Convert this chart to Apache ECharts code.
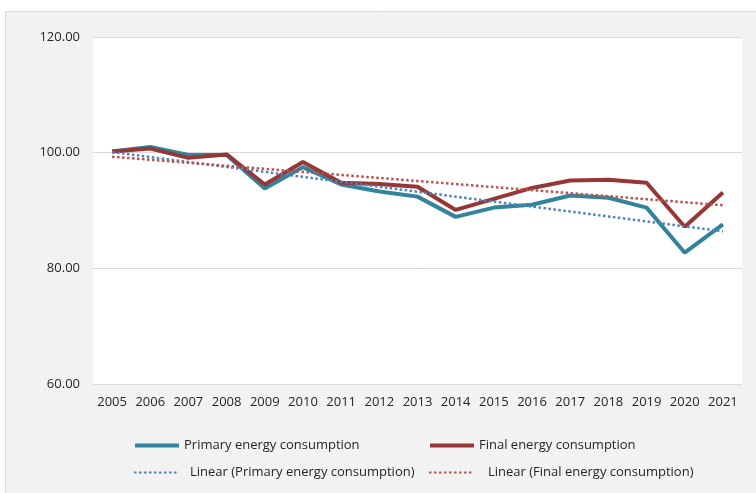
<!DOCTYPE html>
<html>
<head>
<meta charset="utf-8">
<script src="https://cdn.jsdelivr.net/npm/echarts@6/dist/echarts.min.js"></script>
<style>
  html, body { margin: 0; padding: 0; background: #ffffff; }
  #chart { width: 756px; height: 493px; }
</style>
</head>
<body>
<div id="chart"></div>
<script>
// Index values by year (2005 = 100)
const years = ['2005','2006','2007','2008','2009','2010','2011','2012','2013','2014','2015','2016','2017','2018','2019','2020','2021'];
const primaryEnergy = [100.2, 101.0, 99.6, 99.6, 93.8, 97.5, 94.5, 93.3, 92.4, 88.9, 90.5, 91.0, 92.6, 92.2, 90.5, 82.7, 87.6];
const finalEnergy   = [100.2, 100.7, 99.1, 99.7, 94.5, 98.4, 94.8, 94.6, 94.1, 90.1, 92.0, 93.9, 95.2, 95.3, 94.8, 87.2, 93.1];
// Linear trend lines: start and end values, the straight segment between them
const primaryTrendEnds = [100.1, 86.4];
const finalTrendEnds   = [99.3, 90.9];
const yTicks = { min: 60, max: 120, interval: 20 };

const seriesNames = [
  'Primary energy consumption',
  'Final energy consumption',
  'Linear (Primary energy consumption)',
  'Linear (Final energy consumption)'
];

function trendSeries(ends) {
  return years.map((_, i) => i === 0 ? ends[0] : (i === years.length - 1 ? ends[1] : null));
}

const FONT = 'Open Sans';
const TXT = '#262626';

const chart = echarts.init(document.getElementById('chart'), null, { renderer: 'canvas' });

// One legend per entry so each can sit at its own spot in the two-row key
function legendAt(name, left, top, textPad, lineWidth) {
  return {
    data: [name],
    left: left,
    top: top,
    itemWidth: 44,
    itemHeight: 12,
    itemGap: 0,
    padding: 0,
    selectedMode: false,
    itemStyle: { color: 'transparent', borderColor: 'transparent', borderWidth: 0 },
    lineStyle: { width: lineWidth },
    textStyle: { fontFamily: FONT, fontSize: 13, color: TXT, padding: [0, 0, 0, textPad] }
  };
}

chart.setOption({
  animation: false,
  backgroundColor: '#ffffff',
  graphic: [{
    type: 'rect',
    z: -10,
    silent: true,
    shape: { x: 5.5, y: 11.5, width: 760, height: 490 },
    style: { fill: '#f2f2f2', stroke: '#d9d9d9', lineWidth: 1 }
  }, {
    type: 'rect',
    z: -9,
    silent: true,
    shape: { x: 93, y: 37, width: 649, height: 347 },
    style: { fill: '#ffffff' }
  }],
  grid: { left: 93, right: 14, top: 37, bottom: 109, containLabel: false },
  legend: [
    legendAt(seriesNames[0], 133, 439, 0, 4),
    legendAt(seriesNames[1], 428, 439, 0, 4),
    legendAt(seriesNames[2], 133, 466, 7, 2),
    legendAt(seriesNames[3], 428, 466, 10, 2)
  ],
  xAxis: {
    type: 'category',
    data: years,
    boundaryGap: true,
    axisLine: { show: false },
    axisTick: { show: false },
    axisLabel: { margin: 12, fontFamily: FONT, fontSize: 13, color: TXT, interval: 0 }
  },
  yAxis: {
    type: 'value',
    min: yTicks.min,
    max: yTicks.max,
    interval: yTicks.interval,
    axisLine: { show: false },
    axisTick: { show: false },
    splitLine: { lineStyle: { color: '#d9d9d9', width: 1 } },
    axisLabel: {
      margin: 13,
      fontFamily: FONT,
      fontSize: 13,
      color: TXT,
      formatter: v => v.toFixed(2)
    }
  },
  series: [
    {
      name: seriesNames[0],
      type: 'line',
      data: primaryEnergy,
      symbol: 'none',
      color: '#31849b',
      lineStyle: { color: '#31849b', width: 4 },
      z: 2
    },
    {
      name: seriesNames[1],
      type: 'line',
      data: finalEnergy,
      symbol: 'none',
      color: '#953735',
      lineStyle: { color: '#953735', width: 4 },
      z: 3
    },
    {
      name: seriesNames[2],
      type: 'line',
      data: trendSeries(primaryTrendEnds),
      connectNulls: true,
      symbol: 'none',
      color: '#4f81bd',
      lineStyle: { color: '#4f81bd', width: 2.5, type: [2.5, 2.5] },
      z: 4
    },
    {
      name: seriesNames[3],
      type: 'line',
      data: trendSeries(finalTrendEnds),
      connectNulls: true,
      symbol: 'none',
      color: '#c0504d',
      lineStyle: { color: '#c0504d', width: 2.5, type: [2.5, 2.5] },
      z: 4
    }
  ]
});
</script>
</body>
</html>
